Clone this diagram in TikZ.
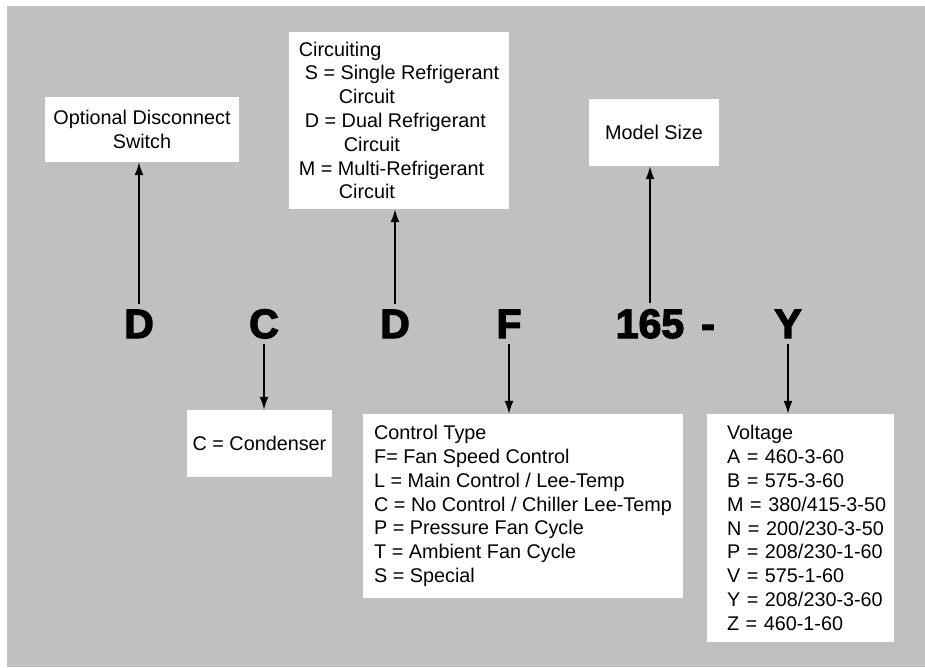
\documentclass[tikz,border=0pt]{standalone}
\usepackage{fontspec}
\setmainfont{Liberation Sans}
\newfontfamily\codefont{Liberation Sans}[BoldFeatures={FakeBold=3.2}]
\usetikzlibrary{arrows.meta}
\definecolor{panelgray}{HTML}{C0C0C0}
\hfuzz=20pt
\begin{document}
\begin{tikzpicture}[x=1pt,y=-1pt,
  codeletter/.style={font=\fontsize{41}{41}\selectfont\codefont\bfseries,inner sep=0pt,outer sep=6pt,anchor=base},
  keybox/.style={fill=white,font=\fontsize{19.8}{23.8}\selectfont,inner ysep=0pt},
  arr/.style={line width=1.6pt,-{Latex[length=13pt,width=9pt]}}]
\useasboundingbox (0,0) rectangle (925,667);
\fill[panelgray] (7,6) rectangle (925,667);
\node[codeletter] (dA) at (139,338) {D};
\node[codeletter] (cB) at (264,338) {C};
\node[codeletter] (dC) at (395,338) {D};
\node[codeletter] (fD) at (509,338) {F};
\node[codeletter] (size) at (650,338) {165};
\node[codeletter] (dash) at (708,338) {-};
\node[codeletter] (yE) at (788,338) {Y};
\node[keybox,minimum width=194,minimum height=65,align=center] (sw) at (142,129.5) {Optional Disconnect\\Switch};
\node[keybox,minimum width=220,minimum height=177,align=left] (circ) at (399,120.5)
  {Circuiting\\\hspace*{6pt}S = Single Refrigerant\\\hspace*{40pt}Circuit\\\hspace*{6pt}D = Dual Refrigerant\\\hspace*{45pt}Circuit\\M = Multi-Refrigerant\\\hspace*{40pt}Circuit};
\node[keybox,minimum width=130,minimum height=67] (model) at (654,132.5) {Model Size};
\node[keybox,minimum width=145,minimum height=67] (cond) at (259.5,443.5) {C = Condenser};
\node[keybox,minimum width=320,minimum height=184,align=left] (ctrl) at (523,506)
  {Control Type\\F= Fan Speed Control\\L = Main Control / Lee-Temp\\C = No Control / Chiller Lee-Temp\\P = Pressure Fan Cycle\\T = Ambient Fan Cycle\\S = Special};
\node[keybox,minimum height=228,text width=147,inner xsep=20pt,align=left] (volt) at (800.5,528)
  {Voltage\\A = 460-3-60\\B = 575-3-60\\\mbox{M = 380/415-3-50}\\\mbox{N = 200/230-3-50}\\\mbox{P = 208/230-1-60}\\V = 575-1-60\\\mbox{Y = 208/230-3-60}\\Z = 460-1-60};
\draw[arr] (dA.north) -- (dA.north |- sw.south);
\draw[arr] (dC.north) -- (dC.north |- circ.south);
\draw[arr] (size.north) -- (size.north |- model.south);
\draw[arr] (cB.south) -- (cB.south |- cond.north);
\draw[arr] (fD.south) -- (fD.south |- ctrl.north);
\draw[arr] (yE.south) -- (yE.south |- volt.north);
\end{tikzpicture}
\end{document}
